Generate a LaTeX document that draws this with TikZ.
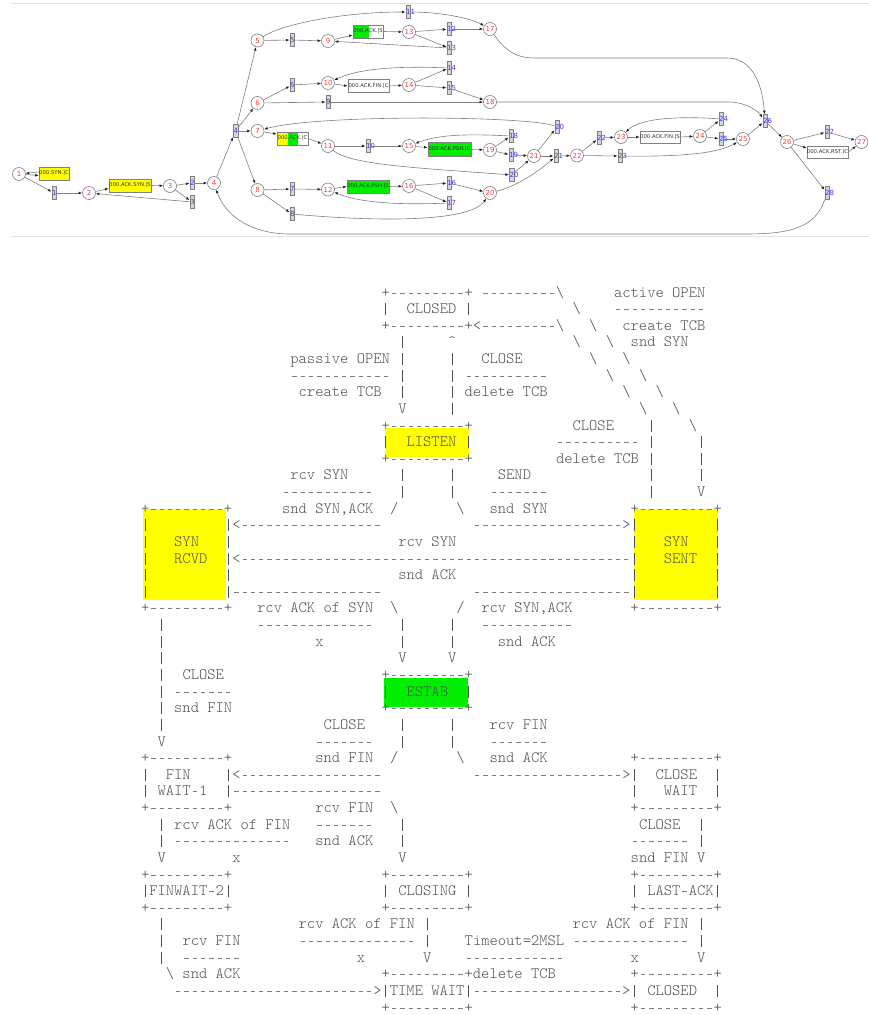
\documentclass[tikz,border=0pt]{standalone}
\usepackage{fontspec}
\usetikzlibrary{arrows.meta}
\newfontfamily\gfont{DejaVu Sans}
\newfontfamily\asciitt{lmmonolt10-regular.otf}
\definecolor{plc}{HTML}{FF3B3B}
\definecolor{trc}{HTML}{3C3CFF}
\definecolor{edgec}{HTML}{808080}
\definecolor{trfill}{HTML}{D6D6D6}
\definecolor{hlyel}{HTML}{FFFF00}
\definecolor{hlgrn}{HTML}{00EE00}
\definecolor{asciic}{HTML}{505050}
\definecolor{dashc}{HTML}{7C7C7C}
\definecolor{framec}{HTML}{E4E4E4}
\newcommand\bs{\textbackslash}
\newcommand\dcell{\makebox[0.525em][c]{\textcolor{dashc}{\rule[3pt]{4.3pt}{1pt}}}}
\newcommand\VB{\makebox[0.525em][c]{\rule[-2pt]{1pt}{12.2pt}}}
\ExplSyntaxOn
\NewDocumentCommand\D{m}{\prg_replicate:nn{#1}{\dcell}}
\ExplSyntaxOff
\tikzset{
 place/.style={circle, draw=edgec, fill=white, line width=0.6pt, minimum size=13pt, inner sep=0pt, text=plc, font=\gfont\fontsize{7}{8}\selectfont},
 trans/.style={rectangle, draw=edgec, fill=trfill, line width=0.5pt, minimum width=4.5pt, minimum height=13pt, inner sep=0pt},
 tlab/.style={anchor=west, inner sep=0pt, text=trc, font=\gfont\fontsize{7}{8}\selectfont},
 msg/.style={rectangle, draw=edgec, line width=0.6pt, inner sep=0pt, font=\gfont\fontsize{5.3}{6}\selectfont, text=black!80},
 arc/.style={draw=edgec, line width=0.6pt, -{Latex[length=3.6pt,width=2.8pt,color=black!85]}},
 asc/.style={anchor=base west, inner sep=0pt, text=asciic, font=\asciitt\fontsize{15.8}{16.6}\selectfont},
 frame/.style={draw=framec, line width=0.8pt},
}
\newcommand\Pl[4]{\node[place] (#1) at (#2,#3) {#4};}
\newcommand\Tr[4]{\node[trans] (#1) at (#2,#3) {}; \node[tlab] (#1l) at ({#2-2},#3) {#4};}
\newcommand\R[3]{\node[asc] (a#1x#2) at ({132.5+8.3*#2},{round(296.5+16.63*(#1-1))}) {#3};}
\begin{document}
\begin{tikzpicture}[x=1pt,y=-1pt]
\useasboundingbox (0,0) rectangle (869,1015);
\fill[white] (0,0) rectangle (869,1015);
% frame lines of the upper picture
\coordinate (ftl) at (11,3); \coordinate (ftr) at (869,3);
\coordinate (fbl) at (11,236.5); \coordinate (fbr) at (869,236.5);
\draw[frame] (ftl) -- (ftr);
\draw[frame] (fbl) -- (fbr);
\begin{scope}
\clip (0,0) rectangle (869,240);
% places
\Pl{p1}{19}{174}{1}
\Pl{p2}{89}{193}{2}
\Pl{p3}{170}{186}{3}
\Pl{p4}{214}{183}{4}
\Pl{p5}{257.5}{40.5}{5}
\Pl{p6}{257.5}{103}{6}
\Pl{p7}{257.5}{131}{7}
\Pl{p8}{257.5}{190}{8}
\Pl{p9}{328}{41}{9}
\Pl{p10}{328}{83}{10}
\Pl{p11}{328}{146}{11}
\Pl{p12}{328}{189.5}{12}
\Pl{p13}{409}{32}{13}
\Pl{p14}{409}{85}{14}
\Pl{p15}{409}{146}{15}
\Pl{p16}{409}{186}{16}
\Pl{p17}{490}{29}{17}
\Pl{p18}{490}{102}{18}
\Pl{p19}{490}{150}{19}
\Pl{p20}{490}{193}{20}
\Pl{p21}{534}{156}{21}
\Pl{p22}{577}{155.5}{22}
\Pl{p23}{621}{137}{23}
\Pl{p24}{700}{136}{24}
\Pl{p25}{743}{139}{25}
\Pl{p26}{787}{142}{26}
\Pl{p27}{861.5}{142}{27}
% transitions
\Tr{t1}{54}{193}{1}
\Tr{t2}{192}{183}{2}
\Tr{t3}{192}{202}{3}
\Tr{t4}{235.5}{131}{4}
\Tr{t5}{292}{40}{5}
\Tr{t6}{292}{85}{6}
\Tr{t7}{292}{189}{7}
\Tr{t8}{292}{214}{8}
\Tr{t9}{328}{102}{9}
\Tr{t10}{368}{146}{10}
\Tr{t11}{408}{12}{11}
\Tr{t12}{449}{29}{12}
\Tr{t13}{449}{48}{13}
\Tr{t14}{449}{68}{14}
\Tr{t15}{449}{88}{15}
\Tr{t16}{449}{183}{16}
\Tr{t17}{449}{203}{17}
\Tr{t18}{511}{136}{18}
\Tr{t19}{511}{155}{19}
\Tr{t20a}{511.5}{175}{20}
\Tr{t20b}{557}{127}{20}
\Tr{t21}{556}{156}{21}
\Tr{t22}{599}{138}{22}
\Tr{t23}{620}{156}{23}
\Tr{t24}{721}{119}{24}
\Tr{t25}{721}{139}{25}
\Tr{t26}{765}{121}{26}
\Tr{t27}{827}{132}{27}
\Tr{t28}{827}{193}{28}
% message boxes
\node[msg, fill=hlyel, minimum width=30pt, minimum height=13pt] (bSYN) at (54,173.5) {000.SYN.|C};
\node[msg, fill=hlyel, minimum width=42pt, minimum height=13pt] (bACKSYN) at (130,185.5) {000.ACK.SYN.|S};
\node[msg, fill=white, minimum width=30pt, minimum height=13pt,
  path picture={\fill[hlgrn] (path picture bounding box.south west) rectangle ([xshift=16pt]path picture bounding box.north west);}] (bACKS) at (368,31.5) {000.ACK.|S};
\node[msg, fill=white, minimum width=41pt, minimum height=12.5pt] (bACKFINC) at (368.5,86) {000.ACK.FIN.|C};
\node[msg, fill=white, minimum width=31pt, minimum height=13pt,
  path picture={\fill[hlyel] (path picture bounding box.south west) rectangle ([xshift=11pt]path picture bounding box.north west);
                \fill[hlgrn] ([xshift=11pt]path picture bounding box.south west) rectangle ([xshift=21pt]path picture bounding box.north west);}] (bACKC) at (292.5,138.5) {000.ACK.|C};
\node[msg, fill=hlgrn, minimum width=43pt, minimum height=13.5pt] (bPSHC) at (449.5,149.5) {000.ACK.PSH.|C};
\node[msg, fill=hlgrn, minimum width=42pt, minimum height=13pt] (bPSHS) at (368,186.5) {000.ACK.PSH.|S};
\node[msg, fill=white, minimum width=40pt, minimum height=12pt] (bFINS) at (660,137) {000.ACK.FIN.|S};
\node[msg, fill=white, minimum width=41pt, minimum height=12pt] (bRST) at (827.5,152) {000.ACK.RST.|C};
% arcs
\draw[arc] ([yshift=1.5pt]bSYN.west) -- (p1);
\draw[arc] (p1) -- ([yshift=-2pt]bSYN.west);
\draw[arc] (p1) -- (t1);
\draw[arc] (t1) -- (p2);
\draw[arc] (p2) -- ([yshift=-3pt]bACKSYN.west);
\draw[arc] (bACKSYN.east) -- (p3);
\draw[arc] (p3) -- (t2);
\draw[arc] (p3) -- (t3);
\draw[arc] (t3) -- (p2);
\draw[arc] (t2) -- (p4);
\draw[arc] (p4) -- (t4);
\draw[arc] (t4) -- (p5);
\draw[arc] (t4) -- (p6);
\draw[arc] (t4) -- (p7);
\draw[arc] (t4) -- (p8);
\draw[arc] (p5) -- (t5);
\draw[arc] (t5) -- (p9);
\draw[arc] (p9) -- ([yshift=-3.5pt]bACKS.west);
\draw[arc] (bACKS.east) -- (p13);
\draw[arc] (p13) -- (t12);
\draw[arc] (p13) -- (t13);
\draw[arc] (t12) -- (p17);
\draw[arc] (t13) -- (p9);
\draw[arc] (p5) .. controls (280,25) and (340,12) .. (t11);
\draw[arc] (t11) .. controls (440,12) and (470,18) .. (p17);
\draw[arc] (p17) .. controls (505,50) and (515,58) .. (535,58) -- (727,58) .. controls (750,58) and (762,80) .. (t26);
\draw[arc] (p6) -- (t6);
\draw[arc] (t6) -- (p10);
\draw[arc] (p10) -- (bACKFINC.west);
\draw[arc] (bACKFINC.east) -- (p14);
\draw[arc] (p14) -- (t14);
\draw[arc] (p14) -- (t15);
\draw[arc] (t14) .. controls (400,66) and (360,68) .. (p10);
\draw[arc] (t15) -- (p18);
\draw[arc] (p6) -- (t9);
\draw[arc] (t9) -- (p18);
\draw[arc] (p18) -- (728,102) .. controls (745,102) and (757,110) .. (t26);
\draw[arc] (p7) -- ([yshift=4.5pt]bACKC.west);
\draw[arc] (bACKC.east) -- (p11);
\draw[arc] (p11) -- (t10);
\draw[arc] (t10) -- (p15);
\draw[arc] (p15) -- ([yshift=2pt]bPSHC.west);
\draw[arc] (bPSHC.east) -- (p19);
\draw[arc] (p19) -- (t18);
\draw[arc] (p19) -- (t19);
\draw[arc] (t18) .. controls (470,134) and (440,134) .. (p15);
\draw[arc] (t19) -- (p21);
\draw[arc] (p11) .. controls (350,165) and (420,168) .. (t20a);
\draw[arc] (t20a) -- (p21);
\draw[arc] (p21) -- (t20b);
\draw[arc] (p21) -- (t21);
\draw[arc] (t20b) .. controls (530,116) and (320,114) .. (p7);
\draw[arc] (t21) -- (p22);
\draw[arc] (p8) -- (t7);
\draw[arc] (t7) -- (p12);
\draw[arc] (p12) -- (bPSHS.west);
\draw[arc] (bPSHS.east) -- (p16);
\draw[arc] (p16) -- (t16);
\draw[arc] (p16) -- (t17);
\draw[arc] (t16) -- (p20);
\draw[arc] (t17) .. controls (400,205) and (360,203) .. (p12);
\draw[arc] (p8) -- (t8);
\draw[arc] (t8) .. controls (380,222) and (470,222) .. (p20);
\draw[arc] (p20) .. controls (520,185) and (540,170) .. (t21);
\draw[arc] (p22) -- (t22);
\draw[arc] (t22) -- (p23);
\draw[arc] (p23) -- (bFINS.west);
\draw[arc] (bFINS.east) -- (p24);
\draw[arc] (p24) -- (t24);
\draw[arc] (p24) -- (t25);
\draw[arc] (t24) .. controls (680,116) and (640,118) .. (p23);
\draw[arc] (t25) -- (p25);
\draw[arc] (p22) -- (t23);
\draw[arc] (t23) .. controls (690,157) and (720,152) .. (p25);
\draw[arc] (p25) -- (t26);
\draw[arc] (t26) -- (p26);
\draw[arc] (p26) -- (t27);
\draw[arc] (t27) -- (p27);
\draw[arc] (p26) -- ([yshift=4pt]bRST.west);
\draw[arc] (bRST.east) -- (p27);
\draw[arc] (p26) -- (t28);
\draw[arc] (t28) .. controls (815,228) and (790,234) .. (745,234) -- (290,234) .. controls (250,234) and (225,215) .. (p4);
\end{scope}
% ---------- ASCII state diagram ----------
\fill[hlyel] (385,428) rectangle (469,457);
\fill[hlyel] (143,509) rectangle (226,600);
\fill[hlyel] (634,509) rectangle (718,600);
\fill[hlgrn] (384,677.5) rectangle (468,706.5);
\R{1}{30}{+\D{9}+ \D{9}\bs}\R{1}{58}{active OPEN}
\R{2}{30}{\VB}\R{2}{33}{CLOSED \VB}\R{2}{53}{\bs}\R{2}{58}{\D{11}}
\R{3}{30}{+\D{9}+<\D{9}\bs}\R{3}{55}{\bs}\R{3}{59}{create TCB}
\R{4}{32}{\VB}\R{4}{38}{\textasciicircum}\R{4}{53}{\bs}\R{4}{57}{\bs}\R{4}{60}{snd SYN}
\R{5}{19}{passive OPEN \VB}\R{5}{38}{\VB}\R{5}{42}{CLOSE}\R{5}{55}{\bs}\R{5}{59}{\bs}
\R{6}{19}{\D{12} \VB}\R{6}{38}{\VB{} \D{10}}\R{6}{57}{\bs}\R{6}{61}{\bs}
\R{7}{20}{create TCB}\R{7}{32}{\VB}\R{7}{38}{\VB{} delete TCB}\R{7}{59}{\bs}\R{7}{63}{\bs}
\R{8}{32}{V}\R{8}{38}{\VB}\R{8}{61}{\bs}\R{8}{65}{\bs}
\R{9}{30}{+\D{9}+}\R{9}{53}{CLOSE}\R{9}{62}{\VB}\R{9}{67}{\bs}
\R{10}{30}{\VB}\R{10}{33}{LISTEN \VB}\R{10}{51}{\D{10} \VB}\R{10}{68}{\VB}
\R{11}{30}{+\D{9}+}\R{11}{51}{delete TCB \VB}\R{11}{68}{\VB}
\R{12}{19}{rcv SYN}\R{12}{32}{\VB}\R{12}{38}{\VB}\R{12}{44}{SEND}\R{12}{62}{\VB}\R{12}{68}{\VB}
\R{13}{18}{\D{11}}\R{13}{32}{\VB}\R{13}{38}{\VB}\R{13}{43}{\D{7}}\R{13}{62}{\VB}\R{13}{68}{V}
\R{14}{1}{+\D{9}+}\R{14}{18}{snd SYN,ACK}\R{14}{31}{/}\R{14}{39}{\bs}\R{14}{43}{snd SYN}\R{14}{60}{+\D{9}+}
\R{15}{1}{\VB}\R{15}{11}{\VB<\D{17}}\R{15}{41}{\D{18}>\VB}\R{15}{70}{\VB}
\R{16}{1}{\VB}\R{16}{5}{SYN}\R{16}{11}{\VB}\R{16}{32}{rcv SYN}\R{16}{60}{\VB}\R{16}{64}{SYN}\R{16}{70}{\VB}
\R{17}{1}{\VB}\R{17}{5}{RCVD}\R{17}{11}{\VB<\D{47}\VB}\R{17}{64}{SENT}\R{17}{70}{\VB}
\R{18}{1}{\VB}\R{18}{11}{\VB}\R{18}{32}{snd ACK}\R{18}{60}{\VB}\R{18}{70}{\VB}
\R{19}{1}{\VB}\R{19}{11}{\VB\D{18}}\R{19}{41}{\D{19}\VB}\R{19}{70}{\VB}
\R{20}{1}{+\D{9}+}\R{20}{15}{rcv ACK of SYN}\R{20}{31}{\bs}\R{20}{39}{/}\R{20}{42}{rcv SYN,ACK}\R{20}{60}{+\D{9}+}
\R{21}{3}{\VB}\R{21}{15}{\D{14}}\R{21}{32}{\VB}\R{21}{38}{\VB}\R{21}{42}{\D{11}}
\R{22}{3}{\VB}\R{22}{22}{x}\R{22}{32}{\VB}\R{22}{38}{\VB}\R{22}{44}{snd ACK}
\R{23}{3}{\VB}\R{23}{32}{V}\R{23}{38}{V}
\R{24}{3}{\VB}\R{24}{6}{CLOSE}\R{24}{30}{+\D{9}+}
\R{25}{3}{\VB{} \D{7}}\R{25}{30}{\VB}\R{25}{33}{ESTAB}\R{25}{40}{\VB}
\R{26}{3}{\VB{} snd FIN}\R{26}{30}{+\D{9}+}
\R{27}{3}{\VB}\R{27}{23}{CLOSE}\R{27}{32}{\VB}\R{27}{38}{\VB}\R{27}{43}{rcv FIN}
\R{28}{3}{V}\R{28}{22}{\D{7}}\R{28}{32}{\VB}\R{28}{38}{\VB}\R{28}{43}{\D{7}}
\R{29}{1}{+\D{9}+}\R{29}{22}{snd FIN}\R{29}{31}{/}\R{29}{39}{\bs}\R{29}{43}{snd ACK}\R{29}{60}{+\D{9}+}
\R{30}{1}{\VB}\R{30}{4}{FIN}\R{30}{11}{\VB<\D{17}}\R{30}{41}{\D{18}>\VB}\R{30}{63}{CLOSE}\R{30}{70}{\VB}
\R{31}{1}{\VB{} WAIT\D{1}1}\R{31}{11}{\VB\D{18}}\R{31}{60}{\VB}\R{31}{64}{WAIT}\R{31}{70}{\VB}
\R{32}{1}{+\D{9}+}\R{32}{22}{rcv FIN}\R{32}{31}{\bs}\R{32}{60}{+\D{9}+}
\R{33}{3}{\VB{} rcv ACK of FIN}\R{33}{22}{\D{7}}\R{33}{32}{\VB}\R{33}{61}{CLOSE}\R{33}{68}{\VB}
\R{34}{3}{\VB{} \D{14}}\R{34}{22}{snd ACK}\R{34}{32}{\VB}\R{34}{60}{\D{7} \VB}
\R{35}{3}{V}\R{35}{12}{x}\R{35}{32}{V}\R{35}{60}{snd FIN V}
\R{36}{1}{+\D{9}+}\R{36}{30}{+\D{9}+}\R{36}{60}{+\D{9}+}
\R{37}{1}{\VB{}FINWAIT\D{1}2\VB}\R{37}{30}{\VB{} CLOSING \VB}\R{37}{60}{\VB{} LAST\D{1}ACK\VB}
\R{38}{1}{+\D{9}+}\R{38}{30}{+\D{9}+}\R{38}{60}{+\D{9}+}
\R{39}{3}{\VB}\R{39}{20}{rcv ACK of FIN \VB}\R{39}{53}{rcv ACK of FIN \VB}
\R{40}{3}{\VB}\R{40}{6}{rcv FIN}\R{40}{20}{\D{14} \VB}\R{40}{40}{Timeout=2MSL \D{14}}\R{40}{68}{\VB}
\R{41}{3}{\VB}\R{41}{6}{\D{7}}\R{41}{27}{x}\R{41}{35}{V}\R{41}{40}{\D{12}}\R{41}{60}{x}\R{41}{68}{V}
\R{42}{4}{\bs{} snd ACK}\R{42}{30}{+\D{9}+delete TCB}\R{42}{60}{+\D{9}+}
\R{43}{5}{\D{24}>\VB{}TIME WAIT\VB\D{18}>\VB}\R{43}{62}{CLOSED}\R{43}{70}{\VB}
\R{44}{30}{+\D{9}+}\R{44}{60}{+\D{9}+}
\end{tikzpicture}
\end{document}
